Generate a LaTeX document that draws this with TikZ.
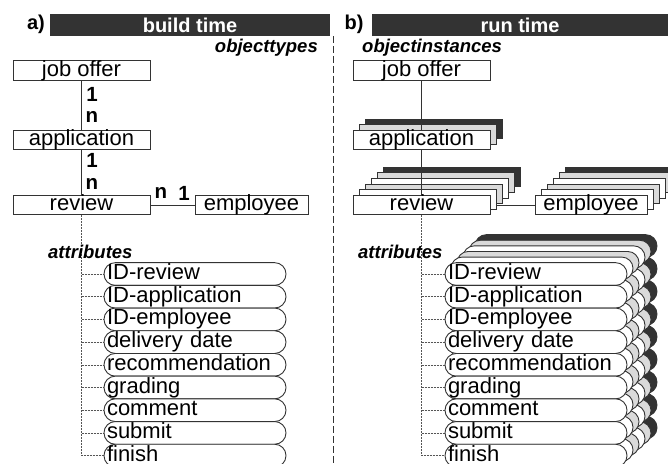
\documentclass[tikz,border=0pt]{standalone}
\usepackage{fontspec}
\setmainfont{Liberation Sans}
\usetikzlibrary{positioning}
\definecolor{couleurbarre}{HTML}{333333}
\definecolor{couleurpile}{HTML}{DADADA}
\definecolor{couleurtrait}{HTML}{333333}
\definecolor{couleurpoint}{HTML}{555555}
\pgfdeclarelayer{dessous}
\pgfdeclarelayer{pile}
\pgfdeclarelayer{liens}
\pgfsetlayers{dessous,pile,liens,main}
\newcommand{\pileboite}[2]{\foreach \k/\coul in {#2} {\draw[couleurtrait, line width=0.9pt, fill=\coul] ([xshift=6pt*\k, yshift=5.6pt*\k]#1.south west) rectangle ([xshift=6pt*\k, yshift=5.6pt*\k]#1.north east);}}
\newcommand{\pileattr}[2]{\foreach \k/\coul in {#2} {\foreach \noeud in {#1} {\draw[couleurtrait, line width=0.9pt, fill=\coul, rounded corners=11.3pt] ([xshift=6pt*\k, yshift=5.6pt*\k]\noeud.south west) rectangle ([xshift=6pt*\k, yshift=5.6pt*\k]\noeud.north east);}}}
\newcommand{\lienattr}[2]{\foreach \noeud in {#1} {\draw[pointille] (#2.south |- \noeud.west) -- (\noeud.west);}}
\newcommand{\lienvtbs}[2]{\draw[lien] (#1.south) -- (#2.north);}
\tikzset{
	basic/.style={draw=couleurtrait, line width=0.9pt, fill=white, inner sep=0pt, outer sep=0pt, text height=15pt, text depth=4pt, font=\fontsize{22}{22}\selectfont},
	objet/.style={basic, minimum width=137pt, minimum height=19.5pt},
	attribut/.style={basic, rounded corners=11.3pt, minimum width=182pt, minimum height=22.7pt, text width=176pt, align=left, node distance=0pt},
	titre/.style={fill=couleurbarre, text=white, inner sep=0pt, minimum height=22pt, font=\fontsize{20}{20}\selectfont\bfseries},
	lettre/.style={inner sep=0pt, font=\fontsize{20}{20}\selectfont\bfseries},
	legende/.style={inner sep=0pt, font=\fontsize{18.5}{18.5}\selectfont\bfseries\itshape},
	card/.style={inner sep=0pt, font=\fontsize{20.5}{20.5}\selectfont\bfseries},
	lien/.style={couleurtrait, line width=0.9pt},
	pointille/.style={couleurpoint, line width=0.6pt, dash pattern=on 2pt off 1pt}
}
\begin{document}
\begin{tikzpicture}[x=1pt, y=-1pt]
	\useasboundingbox (0,0) rectangle (668,463);
	% titres
	\node[lettre] (lettrea) at (36,24) {a)};
	\node[titre, minimum width=280pt] (buildtim) at (190,25) {build time};
	\node[lettre] (lettreb) at (354,24) {b)};
	\node[titre, minimum width=296pt] (runtime) at (520,25) {run time};
	\node[legende, anchor=east] (objtypes) at (318,48) {objecttypes};
	\node[legende, anchor=west] (objinsts) at (362,48) {objectinstances};
	\draw[couleurtrait, line width=0.9pt, dash pattern=on 7pt off 3pt] (buildtim.south east) ++(3pt,0) coordinate (separhau) -- (separhau |- 0,463) coordinate (separbas);

	% a) build time
	\node[objet] (offrtype) at (81.5,70.5) {job offer};
	\node[objet] (appltype) at (81.5,140) {application};
	\node[objet] (revutype) at (81.5,205) {review};
	\node[objet, minimum width=113pt] (empltype) at (251.5,205) {employee};
	\lienvtbs{offrtype}{appltype}
	\lienvtbs{appltype}{revutype}
	\draw[lien] (revutype.east) -- (empltype.west);
	\node[card] (cardoffr) at (92,94) {1};
	\node[card] (cardappa) at (92,117) {n};
	\node[card] (cardappb) at (92,160) {1};
	\node[card] (cardrevu) at (92,184) {n};
	\node[card] (cardrevh) at (161,193) {n};
	\node[card] (cardempl) at (184,193) {1};
	\node[legende, anchor=west] (attrtype) at (48,252) {attributes};
	\node[attribut] (idrevtyp) at (195,274) {ID-review};
	\node[attribut, below=of idrevtyp] (idapptyp) {ID-application};
	\node[attribut, below=of idapptyp] (idemptyp) {ID-employee};
	\node[attribut, below=of idemptyp] (delivtyp) {delivery date};
	\node[attribut, below=of delivtyp] (recomtyp) {recommendation};
	\node[attribut, below=of recomtyp] (gradityp) {grading};
	\node[attribut, below=of gradityp] (commetyp) {comment};
	\node[attribut, below=of commetyp] (submityp) {submit};
	\node[attribut, below=of submityp] (finistyp) {finish};
	\begin{pgfonlayer}{liens}
		\draw[pointille] (revutype.south) -- (revutype.south |- finistyp.west) -- (finistyp.west);
		\lienattr{idrevtyp,idapptyp,idemptyp,delivtyp,recomtyp,gradityp,commetyp,submityp}{revutype}
	\end{pgfonlayer}

	% b) run time
	\node[objet] (offrinst) at (421.5,70.5) {job offer};
	\node[objet] (applinst) at (421.5,140) {application};
	\node[objet] (revuinst) at (421.5,205) {review};
	\node[objet, minimum width=112pt] (emplinst) at (591,205) {employee};
	\node[legende, anchor=west] (attrinst) at (358,252) {attributes};
	\node[attribut] (idrevins) at (536,274) {ID-review};
	\node[attribut, below=of idrevins] (idappins) {ID-application};
	\node[attribut, below=of idappins] (idempins) {ID-employee};
	\node[attribut, below=of idempins] (delivins) {delivery date};
	\node[attribut, below=of delivins] (recomins) {recommendation};
	\node[attribut, below=of recomins] (gradiins) {grading};
	\node[attribut, below=of gradiins] (commeins) {comment};
	\node[attribut, below=of commeins] (submiins) {submit};
	\node[attribut, below=of submiins] (finisins) {finish};
	\begin{pgfonlayer}{dessous}
		\draw[lien] (revuinst.east) -- (emplinst.west);
	\end{pgfonlayer}
	\begin{pgfonlayer}{pile}
		\pileboite{applinst}{2/couleurbarre,1/couleurpile}
		\pileboite{revuinst}{5/couleurbarre,4/couleurpile,3/white,2/couleurpile,1/white}
		\pileboite{emplinst}{5/couleurbarre,4/couleurpile,3/white,2/couleurpile,1/white}
		\pileattr{idrevins,idappins,idempins,delivins,recomins,gradiins,commeins,submiins,finisins}{5/couleurbarre,4/couleurpile,3/white,2/couleurpile,1/white}
	\end{pgfonlayer}
	\begin{pgfonlayer}{liens}
		\lienvtbs{offrinst}{revuinst}
		\draw[pointille] (revuinst.south) -- (revuinst.south |- finisins.west) -- (finisins.west);
		\lienattr{idrevins,idappins,idempins,delivins,recomins,gradiins,commeins,submiins}{revuinst}
	\end{pgfonlayer}
\end{tikzpicture}
\end{document}
